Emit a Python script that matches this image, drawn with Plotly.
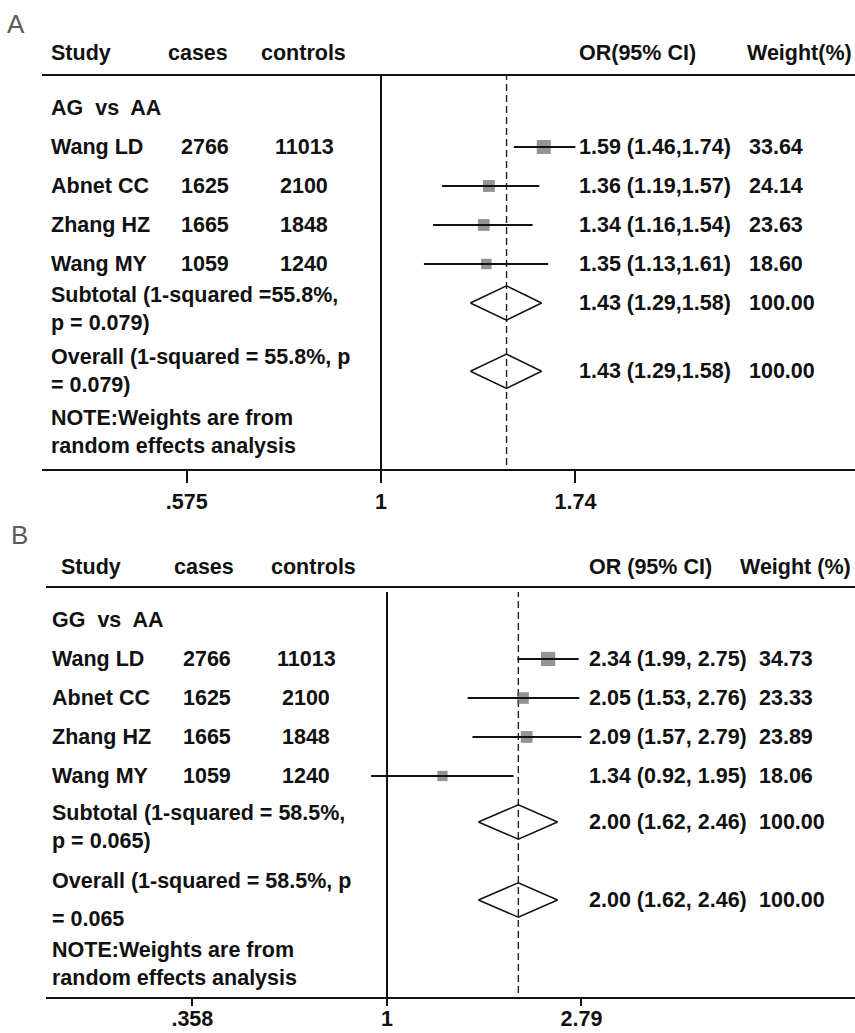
import numpy as np
import plotly.graph_objects as go

# ---------------- data ----------------
studies = ["Wang LD", "Abnet CC", "Zhang HZ", "Wang MY"]
cases = [2766, 1625, 1665, 1059]
controls = [11013, 2100, 1848, 1240]

a_group = "AG\u00a0 vs\u00a0 AA"
a_or = [1.59, 1.36, 1.34, 1.35]
a_lo = [1.46, 1.19, 1.16, 1.13]
a_hi = [1.74, 1.57, 1.54, 1.61]
a_weight = [33.64, 24.14, 23.63, 18.60]
a_pool = [1.43, 1.29, 1.58]          # OR, lower, upper (subtotal = overall)
a_pool_weight = 100.00
a_ticks = [0.575, 1, 1.74]
a_ticktext = [".575", "1", "1.74"]
a_headers = ["Study", "cases", "controls", "OR(95% CI)", "Weight(%)"]
a_subtotal = "Subtotal (1-squared =55.8%,<br>p = 0.079)"
a_overall = "Overall (1-squared = 55.8%, p<br>= 0.079)"

b_group = "GG\u00a0 vs\u00a0 AA"
b_or = [2.34, 2.05, 2.09, 1.34]
b_lo = [1.99, 1.53, 1.57, 0.92]
b_hi = [2.75, 2.76, 2.79, 1.95]
b_weight = [34.73, 23.33, 23.89, 18.06]
b_pool = [2.00, 1.62, 2.46]
b_pool_weight = 100.00
b_ticks = [0.358, 1, 2.79]
b_ticktext = [".358", "1", "2.79"]
b_headers = ["Study", "cases", "controls", "OR (95% CI)", "Weight (%)"]
b_subtotal = "Subtotal (1-squared = 58.5%,<br>p = 0.065)"
b_overall_1 = "Overall (1-squared = 58.5%, p"
b_overall_2 = "= 0.065"

note = "NOTE:Weights are from<br>random effects analysis"

# ---------------- layout constants ----------------
W, H = 855, 1033
ML = 42
PW = W - ML
FONT = "Liberation Sans, Arial, sans-serif"
TXT = dict(family=FONT, size=21.5, color="#111111", weight="bold")
study_rows = [1, 2, 3, 4]


def px(x):
    return (x - ML) / PW


def py(y):
    return 1 - y / H


fig = go.Figure()
annotations = []
shapes = []


def ann(text, x, y, yref, anchor="left"):
    annotations.append(dict(text=text, x=x, y=y, xref="paper", yref=yref, xanchor=anchor,
                            yanchor="middle", align="left", showarrow=False, font=TXT))


def add_panel(xref, yref, ors, los, his, weights, pool, pool_w, group, headers,
              header_x, col_x, fmt, sub_label, sub_label_y, pool_rows,
              overall_labels, note_y, header_y, dash_top, panel_letter, letter_xy):
    sizes = [2.42 * np.sqrt(w) for w in weights]
    fig.add_trace(go.Scatter(
        x=ors, y=study_rows, mode="markers", xaxis=xref, yaxis=yref,
        marker=dict(symbol="square", size=sizes, color="#666666", line=dict(width=0)),
        showlegend=False, hoverinfo="skip"))
    # CI lines drawn over the squares
    fig.add_trace(go.Scatter(
        x=ors, y=study_rows, mode="markers", xaxis=xref, yaxis=yref,
        marker=dict(size=1, opacity=0),
        error_x=dict(type="data", symmetric=False,
                     array=[h - o for h, o in zip(his, ors)],
                     arrayminus=[o - l for o, l in zip(ors, los)],
                     width=0, thickness=1.8, color="#111111"),
        showlegend=False, hoverinfo="skip"))
    hh = 0.44
    for r in pool_rows:
        fig.add_trace(go.Scatter(
            x=[pool[1], pool[0], pool[2], pool[0], pool[1]],
            y=[r, r - hh, r, r + hh, r], mode="lines", xaxis=xref, yaxis=yref,
            line=dict(color="#111111", width=1.5), showlegend=False, hoverinfo="skip"))
    # reference lines
    shapes.append(dict(type="line", xref=xref, yref=yref + " domain", x0=1, x1=1,
                       y0=0, y1=dash_top, line=dict(color="#111111", width=2), layer="below"))
    shapes.append(dict(type="line", xref=xref, yref=yref + " domain", x0=pool[0], x1=pool[0],
                       y0=0.01, y1=dash_top, line=dict(color="#222222", width=1.4, dash="7px,4px"),
                       layer="below"))
    # headers
    for h, hx in zip(headers, header_x):
        ann(h, px(hx), py(header_y), "paper")
    ann(group, px(col_x[0]), 0, yref)
    for i, r in enumerate(study_rows):
        ann(studies[i], px(col_x[0]), r, yref)
        ann(str(cases[i]), px(col_x[1]), r, yref, "center")
        ann(str(controls[i]), px(col_x[2]), r, yref, "center")
        ann(fmt.format(ors[i], los[i], his[i]), px(col_x[3]), r, yref)
        ann(f"{weights[i]:.2f}", px(col_x[4]), r, yref)
    ann(sub_label, px(col_x[0]), sub_label_y, yref)
    for (txt, ty) in overall_labels:
        ann(txt, px(col_x[0]), ty, yref)
    for r in pool_rows:
        ann(fmt.format(*pool), px(col_x[3]), r, yref)
        ann(f"{pool_w:.2f}", px(col_x[4]), r, yref)
    ann(note, px(col_x[0]), note_y, yref)
    annotations.append(dict(text=panel_letter, x=px(letter_xy[0]), y=py(letter_xy[1]), xref="paper",
                            yref="paper", xanchor="left", yanchor="middle", showarrow=False,
                            font=dict(family=FONT, size=26, color="#5a5a5a")))


add_panel("x", "y", a_or, a_lo, a_hi, a_weight, a_pool, a_pool_weight, a_group,
          a_headers, [49, 166, 259, 577, 745], [49, 205, 304, 577, 747], "{:.2f} ({:.2f},{:.2f})",
          a_subtotal, 5.15, [5.0, 6.75], [(a_overall, 6.75)], 8.3, 53, 1.0, "A", (5, 24))

add_panel("x2", "y2", b_or, b_lo, b_hi, b_weight, b_pool, b_pool_weight, b_group,
          b_headers, [59, 172, 269, 587, 738], [50, 207, 306, 587, 757], "{:.2f} ({:.2f}, {:.2f})",
          b_subtotal, 5.3, [5.18, 7.18], [(b_overall_1, 6.69), (b_overall_2, 7.67)], 8.83, 567,
          0.99, "B", (9, 535))

ax_common = dict(type="log", showline=True, linewidth=2, linecolor="#111111", mirror=True,
                 ticks="outside", tickwidth=2, tickcolor="#111111",
                 showgrid=False, zeroline=False, automargin=False, fixedrange=True,
                 tickfont=TXT)
yax_common = dict(visible=False, showgrid=False, zeroline=False, automargin=False, fixedrange=True)

fig.update_layout(
    width=W, height=H,
    margin=dict(l=ML, r=0, t=0, b=0),
    paper_bgcolor="white", plot_bgcolor="white",
    template="none",
    showlegend=False,
    xaxis=dict(ax_common, domain=[0, 1], anchor="y", range=[-0.4195, 0.5865], ticklen=12,
               tickvals=a_ticks, ticktext=a_ticktext),
    yaxis=dict(yax_common, domain=[py(469), py(76)], anchor="x", range=[9.256, -0.82]),
    xaxis2=dict(ax_common, domain=[px(46), 1], anchor="y2", range=[-0.7815, 1.0726], ticklen=7,
                ticklabelstandoff=-6, tickvals=b_ticks, ticktext=b_ticktext),
    yaxis2=dict(yax_common, domain=[py(997), py(588)], anchor="x2", range=[9.667, -0.82]),
    annotations=annotations,
    shapes=shapes,
)

fig.write_html("out.html", config={"displayModeBar": False},
               post_script="document.body.style.margin='0px';document.body.style.overflow='hidden';")
